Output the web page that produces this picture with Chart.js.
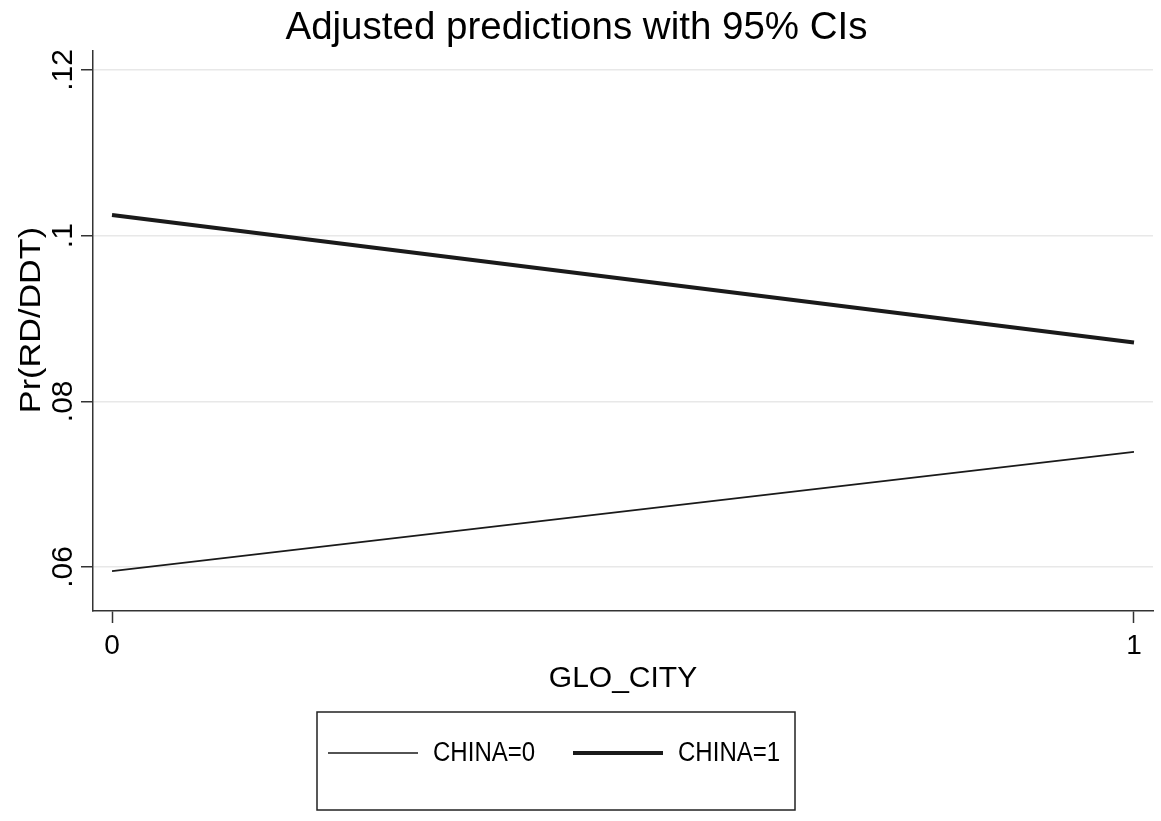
<!DOCTYPE html>
<html>
<head>
<meta charset="utf-8">
<script src="https://cdn.jsdelivr.net/npm/chart.js@4.4.1/dist/chart.umd.min.js"></script>
<style>
  html, body { margin: 0; padding: 0; background: #fff; }
  #wrap { width: 1161px; height: 821px; }
</style>
</head>
<body>
<div id="wrap"><canvas id="chart" width="1161" height="821"></canvas></div>
<script>
// data
const xValues = [0, 1];
const china0 = [0.0595, 0.0739];
const china1 = [0.1025, 0.0871];
const seriesNames = ["CHINA=0", "CHINA=1"];
const xTicks = [0, 1];
const xTickLabels = ["0", "1"];
const yTicks = [0.06, 0.08, 0.1, 0.12];
const yTickLabels = [".06", ".08", ".1", ".12"];

const FONT = "'Liberation Sans', Arial, sans-serif";
const INK = "#1a1a1a";

const toPoints = (vals) => xValues.map((x, i) => ({x: x, y: vals[i]}));

// y tick labels and title are drawn rotated (Stata style)
const yAxisText = {
  id: "yAxisText",
  afterDraw(chart) {
    const ctx = chart.ctx;
    const ys = chart.scales.y;
    ctx.save();
    ctx.fillStyle = "#000";
    ctx.font = "30px " + FONT;
    ctx.textAlign = "center";
    ctx.textBaseline = "alphabetic";
    yTicks.forEach((v, i) => {
      const py = ys.getPixelForValue(v);
      ctx.save();
      ctx.translate(ys.right - 21, py);
      ctx.rotate(-Math.PI / 2);
      ctx.fillText(yTickLabels[i], 0, 0);
      ctx.restore();
    });
    // axis title
    ctx.save();
    ctx.font = "29px " + FONT;
    ctx.translate(40, 320);
    ctx.rotate(-Math.PI / 2);
    ctx.scale(1.18, 1);
    ctx.fillText("Pr(RD/DDT)", 0, 0);
    ctx.restore();
    ctx.restore();
  }
};

// boxed legend below the axis title
const boxLegend = {
  id: "boxLegend",
  afterDraw(chart) {
    const ctx = chart.ctx;
    const box = {left: 317, top: 712, right: 795, bottom: 810};
    ctx.save();
    ctx.strokeStyle = "#222";
    ctx.lineWidth = 1.5;
    ctx.strokeRect(box.left, box.top, box.right - box.left, box.bottom - box.top);
    const rowY = 753;
    const starts = [328, 573];
    chart.data.datasets.forEach((ds, i) => {
      const x0 = starts[i];
      ctx.strokeStyle = ds.borderColor;
      ctx.lineWidth = ds.borderWidth;
      ctx.beginPath();
      ctx.moveTo(x0, rowY);
      ctx.lineTo(x0 + 90, rowY);
      ctx.stroke();
      ctx.save();
      ctx.fillStyle = "#000";
      ctx.font = "27px " + FONT;
      ctx.textAlign = "left";
      ctx.textBaseline = "middle";
      ctx.translate(x0 + 105, rowY + 1);
      ctx.scale(0.89, 1);
      ctx.fillText(ds.label, 0, 0);
      ctx.restore();
    });
    ctx.restore();
  }
};

const config = {
  type: "line",
  data: {
    datasets: [
      {
        label: seriesNames[0],
        data: toPoints(china0),
        borderColor: INK,
        borderWidth: 1.6,
        pointRadius: 0,
        tension: 0
      },
      {
        label: seriesNames[1],
        data: toPoints(china1),
        borderColor: INK,
        borderWidth: 4,
        pointRadius: 0,
        tension: 0
      }
    ]
  },
  options: {
    responsive: false,
    animation: false,
    layout: { padding: { left: 0, right: 8, top: 0, bottom: 120 } },
    scales: {
      x: {
        type: "linear",
        min: -0.0186,
        max: 1.0186,
        afterBuildTicks: (s) => { s.ticks = xTicks.map(v => ({value: v})); },
        afterFit: (s) => { s.height = 90; },
        ticks: {
          color: "#000",
          font: { family: FONT, size: 28, lineHeight: 1.0 },
          padding: 9,
          maxRotation: 0,
          callback: (v) => xTickLabels[xTicks.indexOf(v)]
        },
        grid: {
          drawOnChartArea: false,
          drawTicks: true,
          tickLength: 12,
          tickColor: "#333",
          tickWidth: 1.5
        },
        border: { display: true, color: "#333", width: 1.5 },
        title: {
          display: true,
          text: "GLO_CITY",
          color: "#000",
          font: { family: FONT, size: 30 },
          padding: { top: 11, bottom: 4 }
        }
      },
      y: {
        type: "linear",
        min: 0.05469,
        max: 0.12229,
        afterBuildTicks: (s) => { s.ticks = yTicks.map(v => ({value: v})); },
        afterFit: (s) => { s.width = 93; },
        ticks: { display: false },
        grid: {
          color: "#e8e8e8",
          lineWidth: 1.5,
          drawTicks: true,
          tickLength: 12,
          tickColor: "#333",
          tickWidth: 1.5
        },
        border: { display: true, color: "#333", width: 1.5 }
      }
    },
    plugins: {
      legend: { display: false },
      tooltip: { enabled: false },
      title: {
        display: true,
        text: "Adjusted predictions with 95% CIs",
        color: "#000",
        font: { family: FONT, size: 38.5, weight: "normal", lineHeight: 1.1 },
        padding: { top: 7, bottom: 1.6 }
      }
    }
  },
  plugins: [yAxisText, boxLegend]
};

new Chart(document.getElementById("chart"), config);
</script>
</body>
</html>
